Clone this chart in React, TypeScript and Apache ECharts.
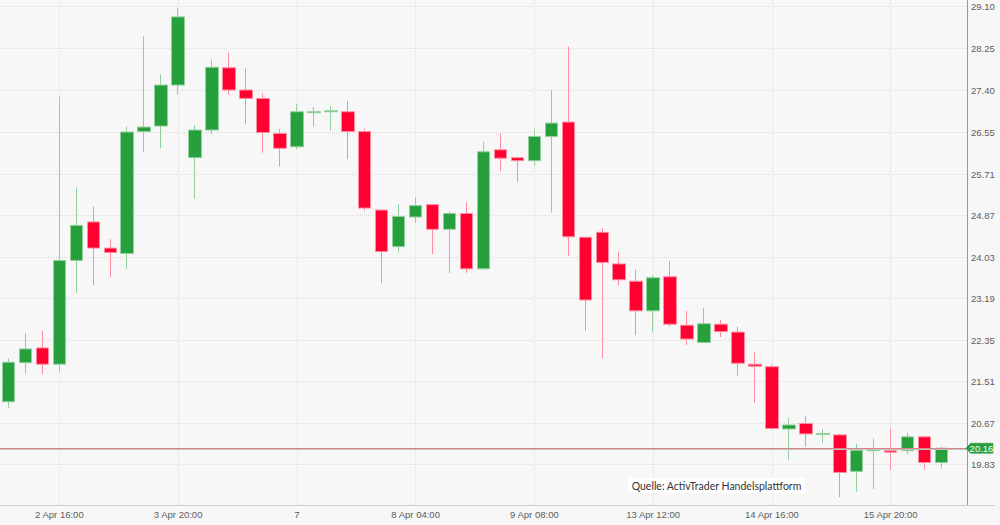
import React, { useEffect, useRef } from "react";
import * as echarts from "echarts";

// 4-hour candles
const open = [
  21.10, 21.89, 22.19, 21.86, 23.96, 24.74, 24.21, 24.10, 26.57, 26.68,
  27.51, 26.04, 26.60, 27.86, 27.41, 27.24, 26.53, 26.26, 26.95, 26.97,
  26.97, 26.57, 24.98, 24.24, 24.84, 25.09, 24.59, 24.91, 23.79, 26.20,
  26.04, 25.98, 26.47, 26.76, 24.43, 24.53, 23.89, 23.54, 22.94, 23.63,
  22.65, 22.30, 22.67, 22.51, 21.86, 21.81, 20.55, 20.66, 20.44, 20.43,
  19.69, 20.11, 20.11, 20.11, 20.39, 19.87,
];
const close = [
  21.90, 22.17, 21.86, 23.96, 24.67, 24.21, 24.12, 26.56, 26.66, 27.51,
  28.89, 26.60, 27.87, 27.41, 27.24, 26.55, 26.23, 26.97, 26.97, 26.99,
  26.57, 25.02, 24.14, 24.85, 25.07, 24.59, 24.91, 23.79, 26.16, 26.03,
  25.98, 26.47, 26.74, 24.44, 23.16, 23.92, 23.57, 22.94, 23.61, 22.67,
  22.37, 22.68, 22.52, 21.88, 21.82, 20.56, 20.63, 20.45, 20.46, 19.67,
  20.12, 20.13, 20.08, 20.39, 19.87, 20.16,
];
const low = [
  20.97, 21.66, 21.66, 21.71, 23.30, 23.46, 23.62, 23.79, 26.16, 26.23,
  27.32, 25.21, 26.51, 27.31, 26.72, 26.14, 25.86, 26.21, 26.67, 26.59,
  26.01, 24.97, 23.50, 24.12, 24.72, 24.09, 23.70, 23.71, 23.77, 25.77,
  25.55, 25.88, 24.93, 24.05, 22.53, 21.98, 23.46, 22.45, 22.50, 22.63,
  22.25, 22.30, 22.41, 21.63, 21.08, 20.53, 19.92, 20.19, 20.26, 19.17,
  19.28, 19.33, 19.72, 20.04, 19.72, 19.75,
];
const high = [
  21.98, 22.49, 22.54, 27.27, 25.44, 25.05, 24.39, 26.67, 28.50, 27.73,
  29.06, 26.70, 28.03, 28.17, 27.85, 27.34, 26.62, 27.13, 27.07, 27.09,
  27.19, 26.63, 25.00, 25.10, 25.24, 25.10, 24.95, 25.14, 26.36, 26.53,
  26.07, 26.61, 27.41, 28.29, 24.44, 24.61, 24.14, 23.77, 23.67, 23.95,
  22.94, 23.00, 22.76, 22.62, 22.11, 21.86, 20.77, 20.81, 20.55, 20.45,
  20.25, 20.36, 20.55, 20.47, 20.40, 20.19,
];

const yTickValues = [19.83, 20.67, 21.51, 22.35, 23.19, 24.03, 24.87, 25.71, 26.55, 27.40, 28.25, 29.10];
const xTickIndex = [3, 10, 17, 24, 31, 38, 45, 52];
const xTickLabels = [
  "2 Apr 16:00",
  "3 Apr 20:00",
  "7",
  "8 Apr 04:00",
  "9 Apr 08:00",
  "13 Apr 12:00",
  "14 Apr 16:00",
  "15 Apr 20:00",
];
const lastPrice = 20.16;
const sourceText = "Quelle: ActivTrader Handelsplattform";

const AXIS_FONT = "'Liberation Sans', Arial, Helvetica, sans-serif";

export default function App() {
  const ref = useRef<HTMLDivElement>(null);

  useEffect(() => {
    if (!ref.current) return;
    const chart = echarts.init(ref.current, null, { renderer: "svg" });
    const n = open.length;
    const categories = Array.from({ length: n + 1 }, (_, i) => String(i));
    const candleData = open.map((o, i) => [o, close[i], low[i], high[i]]);
    const gridRight = 33;

    chart.setOption({
      animation: false,
      backgroundColor: "#f7f7f7",
      grid: { left: -6.73, right: gridRight, top: 0, bottom: 20 },
      xAxis: {
        type: "category",
        data: categories,
        boundaryGap: true,
        axisLine: { show: true, lineStyle: { color: "#d0d0d0", width: 1 } },
        axisTick: { show: false },
        splitLine: { show: false },
        axisLabel: {
          interval: (index: number) => xTickIndex.indexOf(index) >= 0,
          formatter: (_v: string, index: number) => {
            const k = xTickIndex.indexOf(index);
            return k >= 0 ? xTickLabels[k] : "";
          },
          color: "#5c5c5c",
          fontSize: 9.5,
          fontFamily: AXIS_FONT,
          margin: 4,
        },
      },
      yAxis: {
        type: "value",
        position: "right",
        min: 19.011,
        max: 29.2316,
        axisLine: { show: true, lineStyle: { color: "#9a9a9a", width: 1 } },
        axisTick: { show: false, customValues: yTickValues },
        axisLabel: {
          customValues: yTickValues,
          formatter: (v: number) => v.toFixed(2),
          color: "#5c5c5c",
          fontSize: 9.5,
          fontFamily: AXIS_FONT,
          margin: 4,
        },
        splitLine: { show: true, lineStyle: { color: "#dddddd", type: "dotted", width: 1 } },
      },
      series: [
        {
          type: "candlestick",
          data: candleData,
          barWidth: 13,
          z: 3,
          itemStyle: {
            color: "#26a03c",
            color0: "#ff0030",
            borderColor: "#93d09e",
            borderColor0: "#ff8c9f",
            borderWidth: 1,
          },
          markLine: {
            silent: true,
            z: 1,
            symbol: ["none", "none"],
            label: { show: false },
            lineStyle: { color: "#dddddd", type: "dotted", width: 1 },
            data: xTickIndex.map((i) => ({ xAxis: i })),
          },
        },
        {
          type: "line",
          data: [],
          silent: true,
          markLine: {
            silent: true,
            z: 10,
            symbol: ["none", "none"],
            label: { show: false },
            data: [
              { yAxis: lastPrice, lineStyle: { color: "#e27f88", type: "solid", width: 1 } },
              { yAxis: lastPrice - 0.022, lineStyle: { color: "#b8c9bb", type: "solid", width: 1 } },
            ],
          },
        },
      ],
    });

    const yPix = chart.convertToPixel({ yAxisIndex: 0 }, lastPrice) as number;
    const xR = 1000 - gridRight;
    const axisBottom = 525 - 20;
    chart.setOption({
      graphic: [
        {
          type: "line",
          silent: true,
          shape: { x1: xR, y1: axisBottom + 0.5, x2: 995, y2: axisBottom + 0.5 },
          style: { stroke: "#d0d0d0", lineWidth: 1 },
        },
        {
          type: "polygon",
          silent: true,
          z: 20,
          shape: {
            points: [
              [xR - 1, yPix],
              [xR + 3.5, yPix - 5],
              [xR + 26, yPix - 5],
              [xR + 26, yPix + 5],
              [xR + 3.5, yPix + 5],
            ],
          },
          style: { fill: "#26a03c", stroke: "#1d8a31", lineWidth: 0.5 },
        },
        {
          type: "text",
          silent: true,
          z: 21,
          x: xR + 14.5,
          y: yPix,
          style: {
            text: lastPrice.toFixed(2),
            fill: "#ffffff",
            fontSize: 9.5,
            fontFamily: AXIS_FONT,
            align: "center",
            verticalAlign: "middle",
          },
        },
        {
          type: "rect",
          silent: true,
          z: 20,
          shape: { x: 628, y: 478, width: 177, height: 15 },
          style: { fill: "#ffffff" },
        },
        {
          type: "text",
          silent: true,
          z: 21,
          x: 716.5,
          y: 485.5,
          style: {
            text: sourceText,
            fill: "#333333",
            fontSize: 10.5,
            fontFamily: "Lato, 'Open Sans', sans-serif",
            align: "center",
            verticalAlign: "middle",
          },
        },
      ],
    });

    return () => chart.dispose();
  }, []);

  return (
    <div
      ref={ref}
      style={{ position: "fixed", left: 0, top: 0, width: 1000, height: 525 }}
    />
  );
}
